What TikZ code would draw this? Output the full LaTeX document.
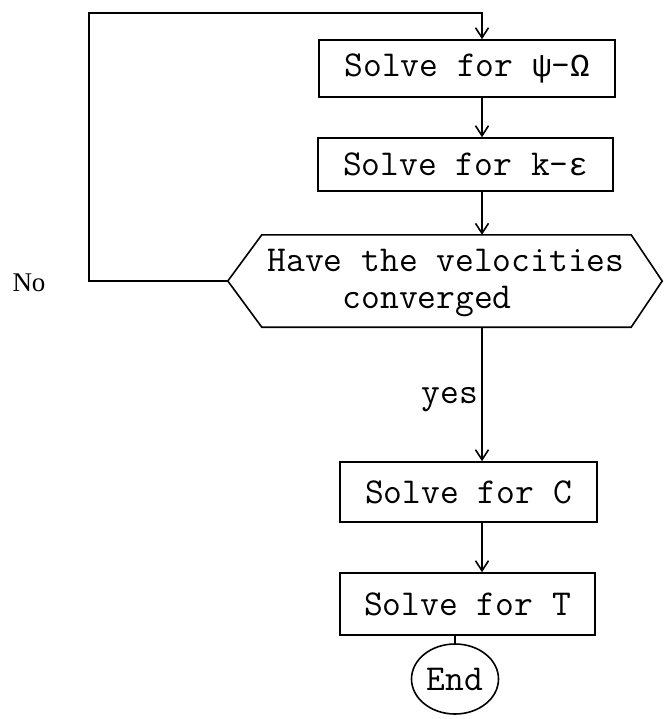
\documentclass[tikz,border=0pt]{standalone}
\usepackage{fontspec}
\newfontfamily\nofont{Liberation Serif}
\newfontfamily\grk{Liberation Mono}
\newcommand{\gk}[1]{{\grk\fontsize{32}{32}\selectfont #1}}
\usetikzlibrary{arrows.meta,shapes.geometric,calc}
\begin{document}
\begin{tikzpicture}[x=1pt,y=-1pt,
  every node/.style={font=\ttfamily\fontsize{36.5}{37}\selectfont},
  procbox/.style={draw, line width=1.6pt, inner sep=0pt},
  conn/.style={line width=1.6pt},
  arr/.style={line width=1.6pt, -{Straight Barb[length=10pt,width=13pt]}}]
\useasboundingbox (0,0) rectangle (663,719);
\coordinate (lc) at (89,13);
\coordinate (ax) at (482,0);
\node[procbox, minimum width=296pt, minimum height=57pt] (b1) at (467,68.5) {Solve for \gk{ψ}-\gk{Ω}};
\node[procbox, minimum width=295pt, minimum height=53pt] (b2) at (465.5,164.5) {Solve for k-\gk{ε}};
\node[minimum width=434pt, minimum height=92pt, inner sep=0pt] (hex) at (445,281) {};
\draw[conn] (hex.west) -- ($(hex.north west)+(34,0)$) -- ($(hex.north east)+(-31,0)$) -- (hex.east) -- ($(hex.south east)+(-31,0)$) -- ($(hex.south west)+(34,0)$) -- cycle;
\node[align=left, inner sep=0pt] (hextext) at (446,283) {Have the velocities\\\hphantom{xxxx}converged};
\node[procbox, minimum width=257pt, minimum height=60pt] (b3) at (468.5,492) {Solve for C};
\node[procbox, minimum width=255pt, minimum height=62pt] (b4) at (467.5,604) {Solve for T};
\node[draw, ellipse, conn, minimum width=87pt, minimum height=70pt, inner sep=0pt] (end) at (455,679) {End};
\node[font=\nofont\fontsize{27}{27}\selectfont] (no) at (29,283) {No};
\draw[arr] (hex.west) -- (hex.west -| lc) -- (lc) -- (lc -| ax) -- (b1.north -| ax);
\draw[arr] (b1.south -| ax) -- (b2.north -| ax);
\draw[arr] (b2.south -| ax) -- (hex.north -| ax);
\draw[arr] (hex.south -| ax) -- node[pos=0.54, anchor=east, inner sep=3pt] {yes} (b3.north -| ax);
\draw[arr] (b3.south -| ax) -- (b4.north -| ax);
\draw[conn] (b4.south -| end) -- (end.north);
\end{tikzpicture}
\end{document}
